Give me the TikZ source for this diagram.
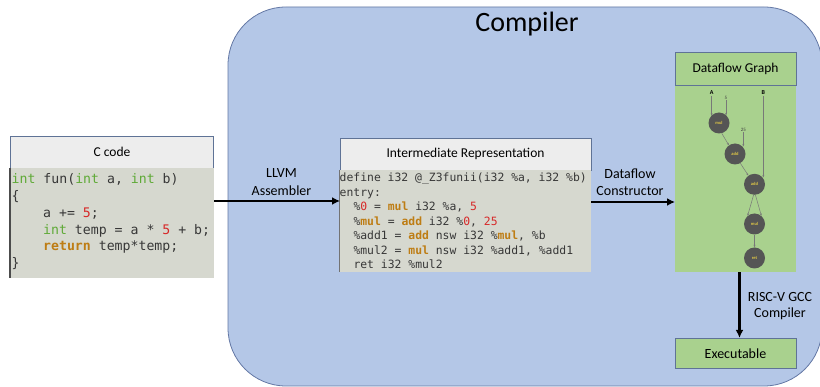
\documentclass[tikz,border=0pt]{standalone}
\usepackage{fontspec}
\setmainfont{Carlito}
\setmonofont{DejaVu Sans Mono}
\usetikzlibrary{arrows.meta}
\definecolor{blobfill}{RGB}{180,199,231}
\definecolor{blobline}{RGB}{100,120,165}
\definecolor{hdrfill}{RGB}{237,237,237}
\definecolor{hdrline}{RGB}{95,115,150}
\definecolor{codefill}{RGB}{214,216,207}
\definecolor{codetext}{RGB}{55,55,55}
\definecolor{tygreen}{RGB}{95,170,55}
\definecolor{numred}{RGB}{215,40,40}
\definecolor{kwbrown}{RGB}{190,125,20}
\definecolor{dfgreen}{RGB}{169,209,142}
\definecolor{nodegray}{RGB}{85,85,85}
\definecolor{edgegray}{RGB}{120,120,120}
\definecolor{lblyellow}{RGB}{225,200,70}
\newcommand{\cty}[1]{\textcolor{tygreen}{#1}}
\newcommand{\cnum}[1]{\textcolor{numred}{#1}}
\newcommand{\ckw}[1]{\textcolor{kwbrown}{\bfseries #1}}
\tikzset{
  hdrbox/.style={draw=hdrline, line width=0.8pt, fill=hdrfill, font=\fontsize{13.5}{16}\selectfont},
  codebody/.style={fill=codefill, draw=none},
  cline/.style={anchor=base west, inner sep=0pt, text=codetext, font=\ttfamily\fontsize{13.2}{16}\selectfont},
  irline/.style={anchor=base west, inner sep=0pt, text=codetext, font=\ttfamily\fontsize{11.4}{14}\selectfont},
  lbl/.style={align=center, font=\fontsize{14}{17.5}\selectfont, inner sep=0pt},
  bigarrow/.style={line width=2.6pt, -{Latex[length=8pt,width=8pt]}},
  greenbox/.style={draw=hdrline, line width=0.8pt, fill=dfgreen},
  dfnode/.style={circle, fill=nodegray, draw=none, minimum size=21pt, inner sep=0pt, text=lblyellow, font=\fontsize{4.5}{4.5}\selectfont\bfseries},
  dflbl/.style={inner sep=0.5pt, font=\fontsize{5}{5}\selectfont},
  dfedge/.style={draw=edgegray, line width=0.5pt, -{Stealth[length=2.5pt,width=2pt]}}
}
\begin{document}
\begin{tikzpicture}[x=1pt,y=-1pt]
\useasboundingbox (0,0) rectangle (820,387);
\fill[white] (0,0) rectangle (820,387);
\begin{scope}
\clip (0,0) rectangle (820,387);
\draw[fill=blobfill, draw=blobline, line width=0.8pt, rounded corners=58pt] (228,7) rectangle (822,386);
\end{scope}
\node[font=\fontsize{28}{30}\selectfont, inner sep=0pt] (title) at (527,24) {Compiler};

% C code
\node[hdrbox, minimum width=203pt, minimum height=32pt, inner sep=0pt] (chead) at (112,152) {C code};
\node[codebody, minimum width=204pt, minimum height=110pt, inner sep=0pt] (cbody) at (112,223) {};
\draw[line width=1.5pt, draw=black!70] (cbody.north west) -- (cbody.south west);
\node[cline] (c1) at (11.5,184) {\cty{int} fun(\cty{int} a, \cty{int} b)};
\node[cline] (c2) at (11.5,200.7) {\{};
\node[cline] (c3) at (43,217.4) {a += \cnum{5};};
\node[cline] (c4) at (43,234.1) {\cty{int} temp = a * \cnum{5} + b;};
\node[cline] (c5) at (43,250.8) {\ckw{return} temp*temp;};
\node[cline] (c6) at (11.5,267.5) {\}};

% IR
\node[hdrbox, minimum width=251pt, minimum height=32pt, inner sep=0pt] (irhead) at (465.5,154) {Intermediate Representation};
\node[codebody, minimum width=251pt, minimum height=102pt, inner sep=0pt] (irbody) at (465.5,221) {};
\draw[line width=1pt, draw=black!55] (irbody.north west) -- (irbody.south west);
\node[irline] (i1) at (339.5,182) {define i32 @\_Z3funii(i32 \%a, i32 \%b)};
\node[irline] (i2) at (339.5,196.5) {entry:};
\node[irline] (i3) at (353.3,211) {\%\cnum{0} = \ckw{mul} i32 \%a, \cnum{5}};
\node[irline] (i4) at (353.3,225.5) {\%\ckw{mul} = \ckw{add} i32 \%\cnum{0}, \cnum{25}};
\node[irline] (i5) at (353.3,240) {\%add1 = \ckw{add} nsw i32 \%\ckw{mul}, \%b};
\node[irline] (i6) at (353.3,254.5) {\%mul2 = \ckw{mul} nsw i32 \%add1, \%add1};
\node[irline] (i7) at (353.3,269) {ret i32 \%mul2};

% Dataflow graph panel
\node[fill=dfgreen, draw=none, minimum width=121pt, minimum height=220pt, inner sep=0pt] (dfpanel) at (735.5,162) {};
\node[greenbox, minimum width=121pt, minimum height=33pt, inner sep=0pt, font=\fontsize{13.5}{16}\selectfont] (dfhead) at (735.5,68.5) {Dataflow Graph};

\node[dfnode] (m1) at (719,123) {mul};
\node[dfnode] (ad1) at (735,154) {add};
\node[dfnode] (ad2) at (754.5,184.3) {add};
\node[dfnode] (m2) at (754.5,224) {mul};
\node[dfnode] (rt) at (754.5,258) {ret};
\node[dflbl, font=\fontsize{6}{6}\selectfont\bfseries] (la) at (711.7,93) {A};
\node[dflbl, text=black!75] (l5) at (726,98) {5};
\node[dflbl, text=black!75] (l25) at (743.3,130) {25};
\node[dflbl, font=\fontsize{6}{6}\selectfont\bfseries] (lb) at (763.3,93) {B};
\draw[dfedge] (la.south) -- (la.south |- m1.138);
\draw[dfedge] (l5.south) -- (l5.south |- m1.45);
\draw[dfedge] (m1.-75) -- (ad1.125);
\draw[dfedge] (l25.south) -- (l25.south |- ad1.45);
\draw[dfedge] (ad1.-60) -- (ad2.125);
\draw[dfedge] (lb.south) -- (lb.south |- ad2.40);
\draw[dfedge] (ad2.-95) -- (m2.130);
\draw[dfedge] (ad2.-85) -- (m2.50);
\draw[dfedge] (m2.south) -- (rt.north);

% Executable
\node[greenbox, minimum width=121pt, minimum height=30pt, inner sep=0pt, font=\fontsize{14}{16}\selectfont] (exe) at (735.5,353.3) {Executable};

% Arrows
\coordinate (a1s) at (214,201);
\coordinate (a1e) at (340,201);
\draw[bigarrow] (a1s) -- (a1e);
\node[lbl] (l1) at (281.5,182) {LLVM\\Assembler};
\coordinate (a2s) at (591,202);
\coordinate (a2e) at (675,202);
\draw[bigarrow] (a2s) -- (a2e);
\node[lbl] (l2) at (630,182) {Dataflow\\Constructor};
\draw[bigarrow] (dfpanel.south -| 739.5,0) -- (exe.north -| 739.5,0);
\node[lbl, font=\fontsize{14}{16.5}\selectfont] (l3) at (780,306) {RISC-V GCC\\Compiler};
\end{tikzpicture}
\end{document}
